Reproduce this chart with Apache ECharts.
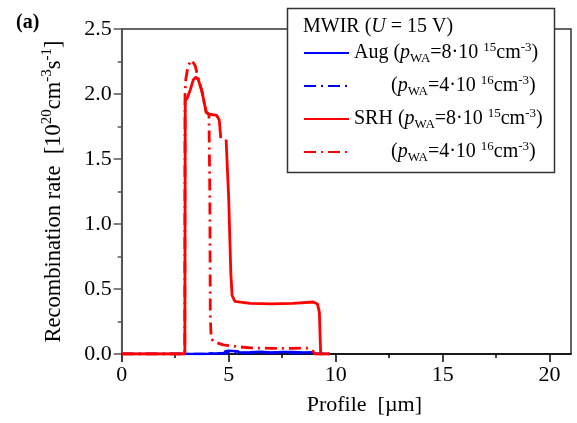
<!DOCTYPE html>
<html>
<head>
<meta charset="utf-8">
<script src="https://cdn.jsdelivr.net/npm/echarts@6/dist/echarts.min.js"></script>
<style>html,body{margin:0;padding:0;background:#fff;}#c{width:577px;height:423px;}</style>
</head>
<body>
<div id="c"></div>
<script>
// ---- data ----
var xTicks = [0, 5, 10, 15, 20];
var xMinorTicks = [2.5, 7.5, 12.5, 17.5];
var augLow = [[0,0],[4.0,0],[4.1,0.004],[4.8,0.006],[4.85,0.022],[5.0,0.025],[5.4,0.022],[5.5,0.012],[6.0,0.014],[6.5,0.018],[7.0,0.012],[7.5,0.016],[8.0,0.015],[8.5,0.012],[8.9,0.014],[9.0,0.004],[9.3,0],[9.73,0]];
var augHigh = [[0,0],[4.1,0],[4.2,0.006],[5,0.008],[6,0.008],[7,0.007],[8,0.007],[8.9,0.006],[9.0,0],[9.73,0]];
var srhLow = [[0,0],[2.95,0],[2.97,1.95],[3.07,1.97],[3.2,2.03],[3.35,2.11],[3.47,2.13],[3.58,2.11],[3.75,2.02],[3.95,1.86],[4.1,1.845],[4.44,1.835],[4.56,1.8],[4.63,1.66],[4.75,null],[4.88,1.65],[5.0,1.2],[5.1,0.62],[5.16,0.45],[5.29,0.405],[6,0.39],[7,0.385],[8,0.39],[8.95,0.40],[9.15,0.385],[9.24,0.32],[9.28,0.1],[9.30,0],[9.73,0]];
var srhHigh = [[0,0],[2.95,0],[2.96,2.0],[3.0,2.12],[3.11,2.22],[3.27,2.26],[3.43,2.22],[3.55,2.14],[3.75,2.02],[3.95,1.86],[4.08,1.84],[4.12,1.2],[4.14,0.3],[4.18,0.12],[4.3,0.095],[4.75,0.07],[5.5,0.055],[6.0,0.047],[7.0,0.044],[8.0,0.044],[8.75,0.046],[8.95,0.02],[9.02,0],[9.73,0]];

var FONT = 'Liberation Serif';
var rich = {
  t: {fontFamily: FONT, fontSize: 20, fontWeight: 'normal', lineHeight: 24, color: '#000'},
  i: {fontFamily: FONT, fontSize: 20, fontWeight: 'normal', fontStyle: 'italic', lineHeight: 24, color: '#000'},
  sub: {fontFamily: FONT, fontSize: 13, fontWeight: 'normal', verticalAlign: 'bottom', color: '#000'},
  sup: {fontFamily: FONT, fontSize: 13, fontWeight: 'normal', verticalAlign: 'top', color: '#000'},
  pad: {fontFamily: FONT, fontSize: 20, width: 37}
};
var legendLabels = {
  'augLow': '{t|Aug (}{i|p}{sub|WA}{t|=8·10 }{sup|15}{t|cm}{sup|-3}{t|)}',
  'augHigh': '{pad| }{t|(}{i|p}{sub|WA}{t|=4·10 }{sup|16}{t|cm}{sup|-3}{t|)}',
  'srhLow': '{t|SRH (}{i|p}{sub|WA}{t|=8·10 }{sup|15}{t|cm}{sup|-3}{t|)}',
  'srhHigh': '{pad| }{t|(}{i|p}{sub|WA}{t|=4·10 }{sup|16}{t|cm}{sup|-3}{t|)}'
};
var dashDot = [12, 5, 2, 5];

var chart = echarts.init(document.getElementById('c'), null, {renderer: 'canvas'});
chart.setOption({
  animation: false,
  backgroundColor: '#fff',
  title: [
    {text: '(a)', left: 11, top: 8, textStyle: {fontFamily: FONT, fontSize: 20, fontWeight: 'bold', color: '#000'}, z: 100},
    {text: '{t|MWIR (}{i|U}{t| = 15 V)}', left: 303, top: 15, padding: 0, z: 100,
     textStyle: {fontWeight: 'normal', rich: rich}}
  ],
  graphic: [
    {type: 'rect', z: 50, shape: {x: 287.5, y: 8.5, width: 267, height: 164},
     style: {fill: '#fff', stroke: '#333', lineWidth: 1.5}}
  ],
  legend: {
    orient: 'vertical', left: 303, top: 41, padding: 0, itemGap: 9,
    itemWidth: 45, itemHeight: 14, selectedMode: false, z: 100,
    data: ['augLow', 'augHigh', 'srhLow', 'srhHigh'],
    itemStyle: {opacity: 0},
    formatter: function (n) { return legendLabels[n]; },
    textStyle: {fontFamily: FONT, fontSize: 20, color: '#000', rich: rich}
  },
  grid: {left: 121.7, right: 6, top: 29, bottom: 69, show: true, borderColor: '#333', borderWidth: 1.5, containLabel: false},
  xAxis: [{
    type: 'value', min: 0, max: 21, interval: 5,
    name: 'Profile  [µm]', nameLocation: 'middle', nameGap: 40,
    nameTextStyle: {fontFamily: FONT, fontSize: 22, color: '#000', padding: [0, 0, 0, 36]},
    axisLine: {lineStyle: {color: '#000', width: 1.5}},
    axisTick: {customValues: xTicks, length: 8, lineStyle: {color: '#000', width: 1.5}},
    axisLabel: {customValues: xTicks, fontFamily: FONT, fontSize: 22, color: '#000', margin: 10},
    splitLine: {show: false}
  }, {
    type: 'value', min: 0, max: 21, position: 'bottom',
    axisLine: {show: false},
    axisTick: {customValues: xMinorTicks, length: 4, lineStyle: {color: '#000', width: 1.5}},
    axisLabel: {show: false},
    splitLine: {show: false}
  }],
  yAxis: {
    type: 'value', min: 0, max: 2.5, interval: 0.5,
    name: '{t|Recombination rate  [10}{sup|20}{t|cm}{sup|-3}{t|s}{sup|-1}{t|]}',
    nameLocation: 'middle', nameGap: 54,
    nameTextStyle: {rich: {
      t: {fontFamily: FONT, fontSize: 22.5, lineHeight: 28, color: '#000'},
      sup: {fontFamily: FONT, fontSize: 15, verticalAlign: 'top', color: '#000'}
    }},
    axisLine: {lineStyle: {color: '#555', width: 2}},
    axisTick: {length: 8, lineStyle: {color: '#555', width: 1.5}},
    minorTick: {show: true, splitNumber: 2, length: 4, lineStyle: {color: '#555', width: 1.5}},
    axisLabel: {fontFamily: FONT, fontSize: 22, color: '#000', margin: 10,
      formatter: function (v) { return v.toFixed(1); }},
    splitLine: {show: false}
  },
  series: [
    {name: 'augLow', type: 'line', data: augLow, symbol: 'none', lineStyle: {color: '#0000ff', width: 2.5}, itemStyle: {color: '#0000ff', opacity: 0}},
    {name: 'augHigh', type: 'line', data: augHigh, symbol: 'none', lineStyle: {color: '#0000ff', width: 2.5, type: dashDot}, itemStyle: {color: '#0000ff', opacity: 0}},
    {name: 'srhLow', type: 'line', data: srhLow, symbol: 'none', connectNulls: false, lineStyle: {color: '#ff0000', width: 2.8}, itemStyle: {color: '#ff0000', opacity: 0}},
    {name: 'srhHigh', type: 'line', data: srhHigh, symbol: 'none', lineStyle: {color: '#ff0000', width: 2.8, type: dashDot}, itemStyle: {color: '#ff0000', opacity: 0}}
  ]
});
</script>
</body>
</html>
